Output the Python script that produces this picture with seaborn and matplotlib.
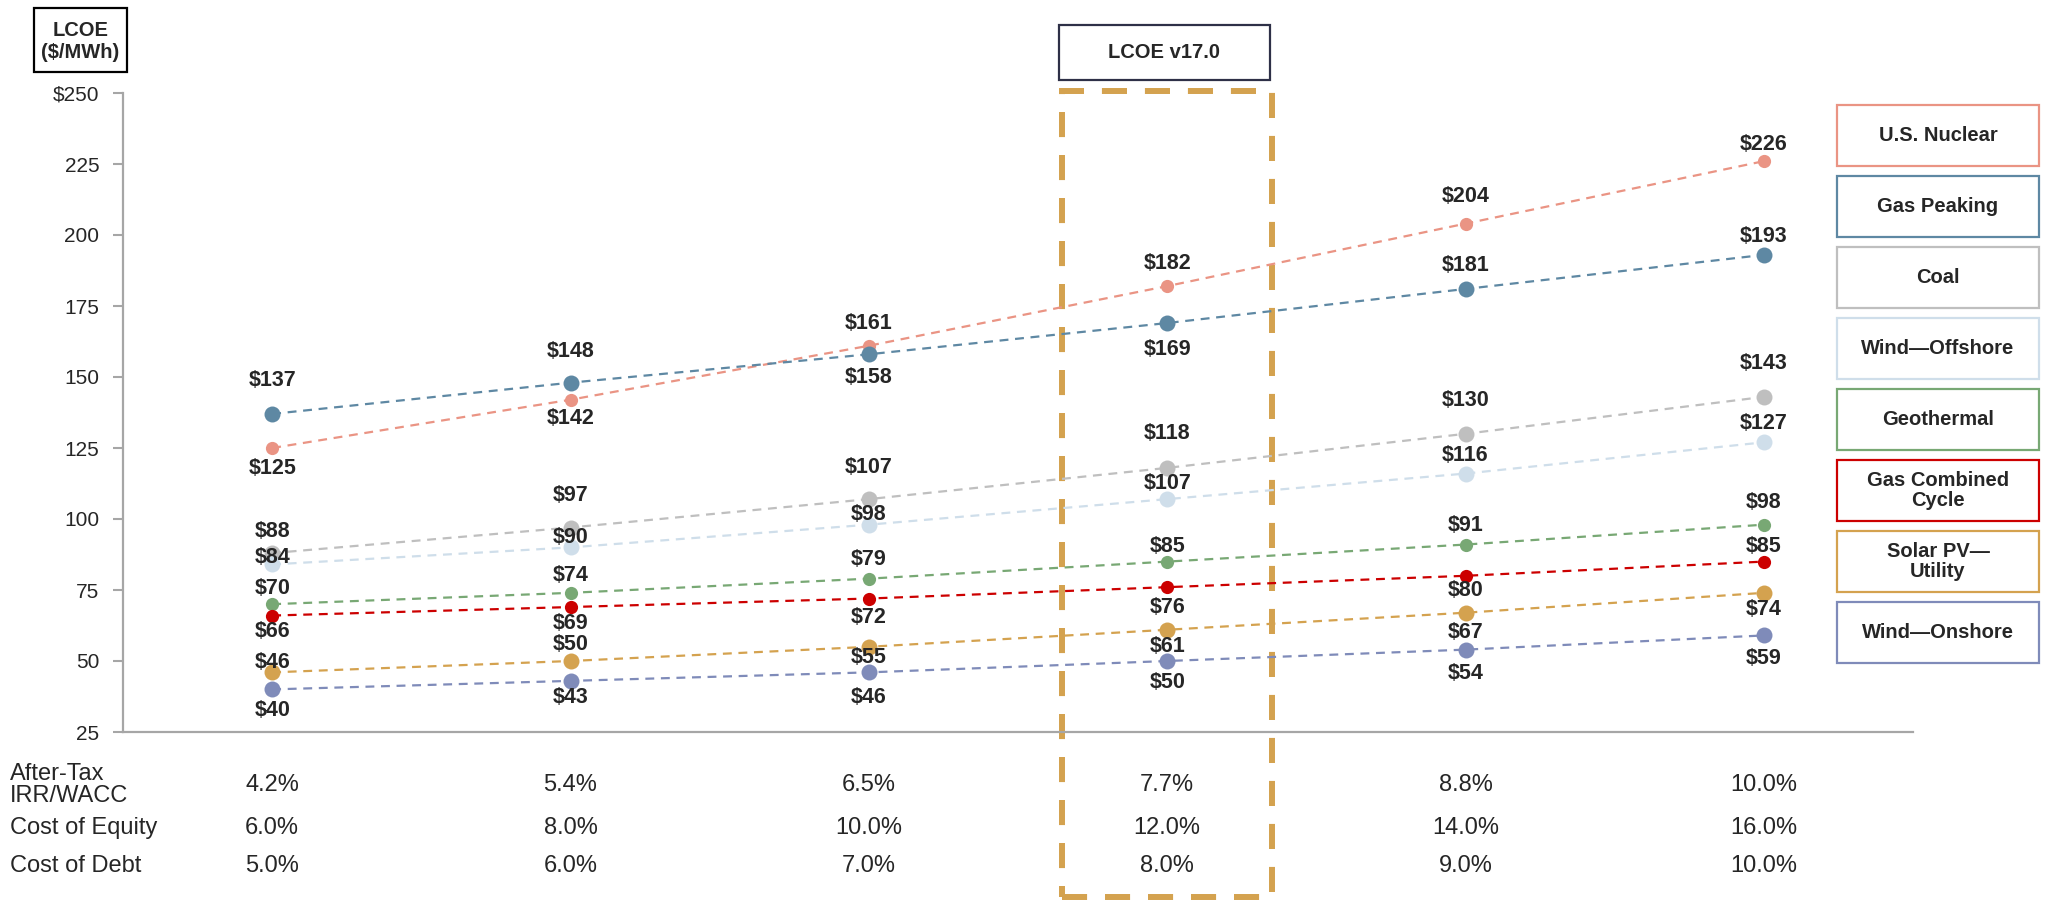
import matplotlib
matplotlib.use("Agg")
import matplotlib.pyplot as plt
import matplotlib.patches as mpatches
from matplotlib import font_manager
from matplotlib.transforms import blended_transform_factory
import pandas as pd
import seaborn as sns

# data
wacc = ["4.2%", "5.4%", "6.5%", "7.7%", "8.8%", "10.0%"]
cost_of_equity = ["6.0%", "8.0%", "10.0%", "12.0%", "14.0%", "16.0%"]
cost_of_debt = ["5.0%", "6.0%", "7.0%", "8.0%", "9.0%", "10.0%"]

techs = ["U.S. Nuclear", "Gas Peaking", "Coal", "Wind—Offshore", "Geothermal",
         "Gas Combined\nCycle", "Solar PV—\nUtility", "Wind—Onshore"]
nuclear = [125, 142, 161, 182, 204, 226]
gas_peaking = [137, 148, 158, 169, 181, 193]
coal = [88, 97, 107, 118, 130, 143]
wind_offshore = [84, 90, 98, 107, 116, 127]
geothermal = [70, 74, 79, 85, 91, 98]
gas_cc = [66, 69, 72, 76, 80, 85]
solar = [46, 50, 55, 61, 67, 74]
wind_onshore = [40, 43, 46, 50, 54, 59]
series = [nuclear, gas_peaking, coal, wind_offshore, geothermal, gas_cc, solar, wind_onshore]

# styling
colors = ["#EA9484", "#5E88A3", "#BFBFBF", "#CFDEEA", "#78A874", "#CC0000", "#D4A24F", "#7F8BB9"]
msizes = [9.5, 11.5, 11.5, 11.5, 9.5, 9.5, 11.5, 11.5]
# label offsets in pixels (positive = below the point)
label_off = [
    [21, 19, -22, -23, -27, -17],
    [-33, -31, 23, 26, -23, -18],
    [-22, -32, -32, -34, -33, -33],
    [-7, -10, -10, -16, -18, -19],
    [-16, -17, -19, -15, -19, -22],
    [16, 16, 19, 20, 15, -15],
    [-10, -16, 11, 17, 20, 17],
    [21, 17, 25, 22, 24, 23],
]

rows = []
for t, vals in zip(techs, series):
    for w, v in zip(wacc, vals):
        rows.append({"tech": t, "wacc": w, "lcoe": v})
df = pd.DataFrame(rows)

sns.set_style("white")
names = {f.name for f in font_manager.fontManager.ttflist}
plt.rcParams["font.family"] = ["Liberation Sans", "DejaVu Sans"]
fs_lab, fs_tick, fs_tab, fs_box = 15.5, 15, 17, 14.5

W, H = 2045, 902
fig = plt.figure(figsize=(W / 100, H / 100), dpi=100)
ax = fig.add_axes([123 / W, 1 - 732 / H, (1913 - 123) / W, (732 - 93) / H])

for t, c, ms in zip(techs, colors, msizes):
    sns.lineplot(data=df[df.tech == t], x="wacc", y="lcoe", ax=ax, color=c,
                 marker="o", markersize=ms, mew=0, lw=1.6,
                 linestyle=(0, (4, 3)), sort=False)

for vals, offs in zip(series, label_off):
    for i, (v, o) in enumerate(zip(vals, offs)):
        ax.annotate(f"${v}", (wacc[i], v), xytext=(0, -o), textcoords="offset pixels",
                    ha="center", va="center", fontsize=fs_lab, fontweight="bold", zorder=5)

ax.set_xlim(-0.5, 5.5)
ax.set_ylim(25, 250)
yt = list(range(25, 251, 25))
ax.set_yticks(yt)
ax.set_yticklabels([f"${v}" if v == 250 else str(v) for v in yt])
ax.tick_params(axis="y", length=7, width=1.5, color="#A6A6A6", pad=10, labelsize=fs_tick, left=True)
ax.tick_params(axis="x", length=0, labelbottom=False)
ax.set_xlabel("")
ax.set_ylabel("")
for s in ["top", "right"]:
    ax.spines[s].set_visible(False)
for s in ["left", "bottom"]:
    ax.spines[s].set_color("#A6A6A6")
    ax.spines[s].set_linewidth(1.6)
if ax.get_legend():
    ax.get_legend().remove()

# table under the chart
tr = blended_transform_factory(ax.transData, fig.transFigure)
table_rows = [("After-Tax\nIRR/WACC", wacc, 785), ("Cost of Equity", cost_of_equity, 828),
              ("Cost of Debt", cost_of_debt, 866)]
for label, vals, ypx in table_rows:
    fig.text(10 / W, 1 - ypx / H, label, ha="left", va="center", fontsize=fs_tab, linespacing=0.95)
    for i, v in enumerate(vals):
        ax.text(i, 1 - ypx / H, v, transform=tr, ha="center", va="center", fontsize=fs_tab, clip_on=False)

# highlighted column box
hi = wacc.index("7.7%")
ax.add_patch(mpatches.Rectangle((hi - 0.353, 1 - 897 / H), 0.706, (897 - 91) / H, transform=tr,
                                fill=False, ec="#D4A24F", lw=4.3, ls=(0, (4.2, 3.0)), clip_on=False))
fig.patches.append(mpatches.Rectangle((1059 / W, 1 - 80 / H), 211 / W, 55 / H, transform=fig.transFigure,
                                      fill=False, ec="#2E3047", lw=1.6))
fig.text(1164.5 / W, 1 - 52 / H, "LCOE v17.0", ha="center", va="center", fontsize=fs_box, fontweight="bold")

# y-axis title box
fig.patches.append(mpatches.Rectangle((34 / W, 1 - 72 / H), 93 / W, 64 / H, transform=fig.transFigure,
                                      fill=False, ec="black", lw=1.6))
fig.text(80.5 / W, 1 - 41 / H, "LCOE\n($/MWh)", ha="center", va="center", fontsize=fs_box,
         fontweight="bold", linespacing=1.2)

# legend boxes
for k, (t, c) in enumerate(zip(techs, colors)):
    top = 105 + k * 71
    fig.patches.append(mpatches.Rectangle((1837 / W, 1 - (top + 61) / H), 202 / W, 61 / H,
                                          transform=fig.transFigure, fill=False, ec=c, lw=1.6))
    fig.text(1938 / W, 1 - (top + 30.5) / H, t, ha="center", va="center", fontsize=fs_box,
             fontweight="bold", linespacing=1.05)

fig.savefig("out.png", dpi=100)
